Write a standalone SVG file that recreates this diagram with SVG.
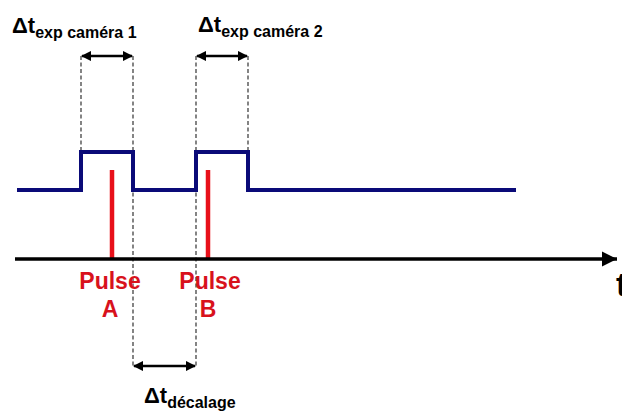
<svg xmlns="http://www.w3.org/2000/svg" width="622" height="412" viewBox="0 0 622 412">
<defs>
<style>
.sig{fill:none;stroke:#0a0a78;stroke-width:4;stroke-linejoin:miter}
.axis{stroke:#000;stroke-width:3.5}
.pulse{stroke:#e8101a;stroke-width:4.5}
.dash{stroke:#333;stroke-width:1.2;stroke-dasharray:4 2.5}
.dim{stroke:#000;stroke-width:2.5;marker-start:url(#ah);marker-end:url(#ah)}
.lbl{font-family:"Liberation Sans",Arial,sans-serif;font-weight:bold;fill:#000}
.red{font-family:"Liberation Sans",Arial,sans-serif;font-weight:bold;fill:#d8121c;font-size:23px;text-anchor:middle}
</style>
<marker id="ah" viewBox="0 0 10 10" refX="9" refY="5" markerWidth="4.2" markerHeight="4.2" orient="auto-start-reverse">
<path d="M0,0 L10,5 L0,10 Z" fill="#000"/>
</marker>
<marker id="axh" viewBox="0 0 10 10" refX="10" refY="5" markerWidth="4.4" markerHeight="4.6" orient="auto">
<path d="M0,0 L10,5 L0,10 Z" fill="#000"/>
</marker>
</defs>
<rect width="622" height="412" fill="#fff"/>
<g id="connectors">
<line class="dash" x1="81" y1="56" x2="81" y2="152"/>
<line class="dash" x1="133" y1="56" x2="133" y2="366"/>
<line class="dash" x1="196" y1="56" x2="196" y2="366"/>
<line class="dash" x1="248" y1="56" x2="248" y2="152"/>
<line class="dim" x1="82" y1="56" x2="132" y2="56"/>
<line class="dim" x1="197" y1="56" x2="247" y2="56"/>
<line class="dim" x1="134" y1="366" x2="195" y2="366"/>
</g>
<g id="signal">
<polyline class="sig" points="17,190 81,190 81,152 133,152 133,190 196,190 196,152 248,152 248,190 516,190"/>
</g>
<g id="pulse-bars">
<line class="pulse" x1="112" y1="170" x2="112" y2="259"/>
<line class="pulse" x1="208" y1="170" x2="208" y2="259"/>
</g>
<g id="time-axis">
<line class="axis" x1="15" y1="259" x2="617" y2="259" style="marker-end:url(#axh)"/>
<text class="lbl" x="616" y="296" font-size="34">t</text>
</g>
<g id="label-exp1">
<text class="lbl" x="12" y="33" font-size="22">Δt<tspan font-size="16" dy="5">exp caméra 1</tspan></text>
</g>
<g id="label-exp2">
<text class="lbl" x="198" y="32" font-size="22">Δt<tspan font-size="16" dy="5">exp caméra 2</tspan></text>
</g>
<g id="label-pulseA">
<text class="red" x="110" y="289">Pulse</text>
<text class="red" x="110" y="317">A</text>
</g>
<g id="label-pulseB">
<text class="red" x="210" y="289">Pulse</text>
<text class="red" x="208" y="317">B</text>
</g>
<g id="label-decalage">
<text class="lbl" x="144" y="403" font-size="22">Δt<tspan font-size="16" dy="5">décalage</tspan></text>
</g>
</svg>
